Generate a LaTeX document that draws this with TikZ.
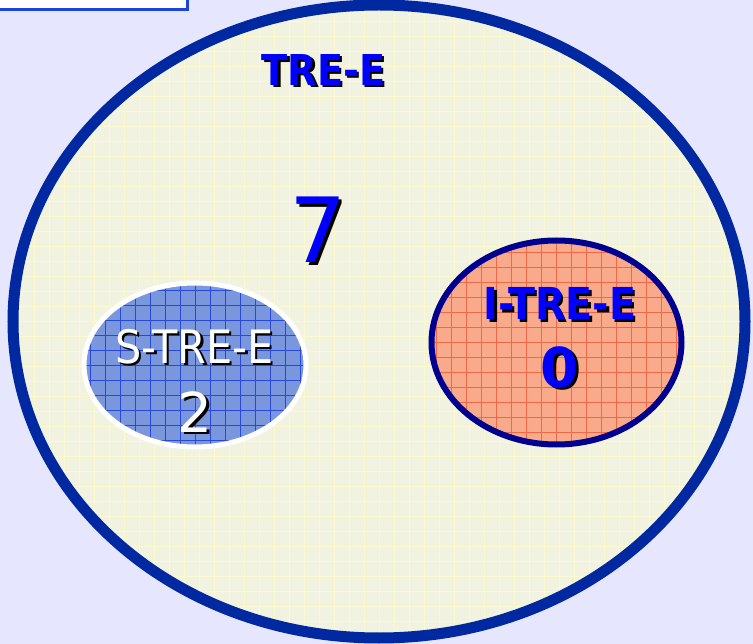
\documentclass[tikz,border=0pt]{standalone}
\usepackage{fontspec}
\setmainfont{DejaVu Sans}
\newfontfamily\condfont{DejaVu Sans Condensed}
\usetikzlibrary{shapes.geometric}
\definecolor{bglilac}{RGB}{230,230,255}
\definecolor{setcream}{RGB}{242,242,224}
\definecolor{setgrid}{RGB}{250,250,205}
\definecolor{setrim}{RGB}{0,40,160}
\definecolor{sfill}{RGB}{122,150,220}
\definecolor{sgrid}{RGB}{40,72,216}
\definecolor{ifill}{RGB}{248,170,138}
\definecolor{igrid}{RGB}{240,104,72}
\definecolor{irim}{RGB}{0,0,144}
\definecolor{tabblue}{RGB}{26,68,224}
\definecolor{txtblue}{RGB}{0,0,255}
% text with a black drop shadow behind it
\newcommand\dropshadow[1]{\rlap{\kern2.5pt\raisebox{-2.5pt}[0pt][0pt]{\color{black}#1}}#1}
\tikzset{
  setshape/.style={ellipse,inner sep=0pt},
  gridded/.style={path picture={\draw[#1,line width=0.6pt,step=15pt]
      (path picture bounding box.south west) grid (path picture bounding box.north east);}}
}
\begin{document}
\begin{tikzpicture}[x=1pt,y=-1pt]
	\useasboundingbox[fill=bglilac] (0,0) rectangle (753,644);
	\clip (0,0) rectangle (753,644);
	\draw[fill=white,draw=tabblue,line width=3.5pt] (-10,-10) rectangle (187.5,9.5);
	% outer set
	\node[setshape,fill=setcream,draw=setrim,line width=11pt,gridded=setgrid,
		minimum width=732pt,minimum height=633pt] (tree) at (379,321.5) {};
	% inner sets
	\node[setshape,fill=sfill,draw=white,line width=5pt,gridded=sgrid,
		minimum width=222pt,minimum height=164pt] (stree) at (195,365) {};
	\node[setshape,fill=ifill,draw=irim,line width=6pt,gridded=igrid,
		minimum width=250pt,minimum height=204pt] (itree) at (556.5,342.5) {};
	% labels
	\node[text=txtblue,font=\condfont\bfseries\fontsize{42.5}{50}\selectfont] (tree-l) at (323.5,70) {\dropshadow{TRE-E}};
	\node[text=txtblue,font=\fontsize{90}{100}\selectfont] (seven) at (318.5,230) {\dropshadow{7}};
	\node[text=white,font=\condfont\fontsize{46}{52}\selectfont] (stree-l) at (194.5,346.5) {\dropshadow{S-TRE-E}};
	\node[text=white,font=\fontsize{55}{60}\selectfont] (two) at (195,412) {\dropshadow{2}};
	\node[text=txtblue,font=\condfont\bfseries\fontsize{44}{50}\selectfont] (itree-l) at (560,303.5) {\dropshadow{I-TRE-E}};
	\node[text=txtblue,font=\bfseries\fontsize{55}{60}\selectfont] (zero) at (560,367) {\dropshadow{0}};
\end{tikzpicture}
\end{document}
